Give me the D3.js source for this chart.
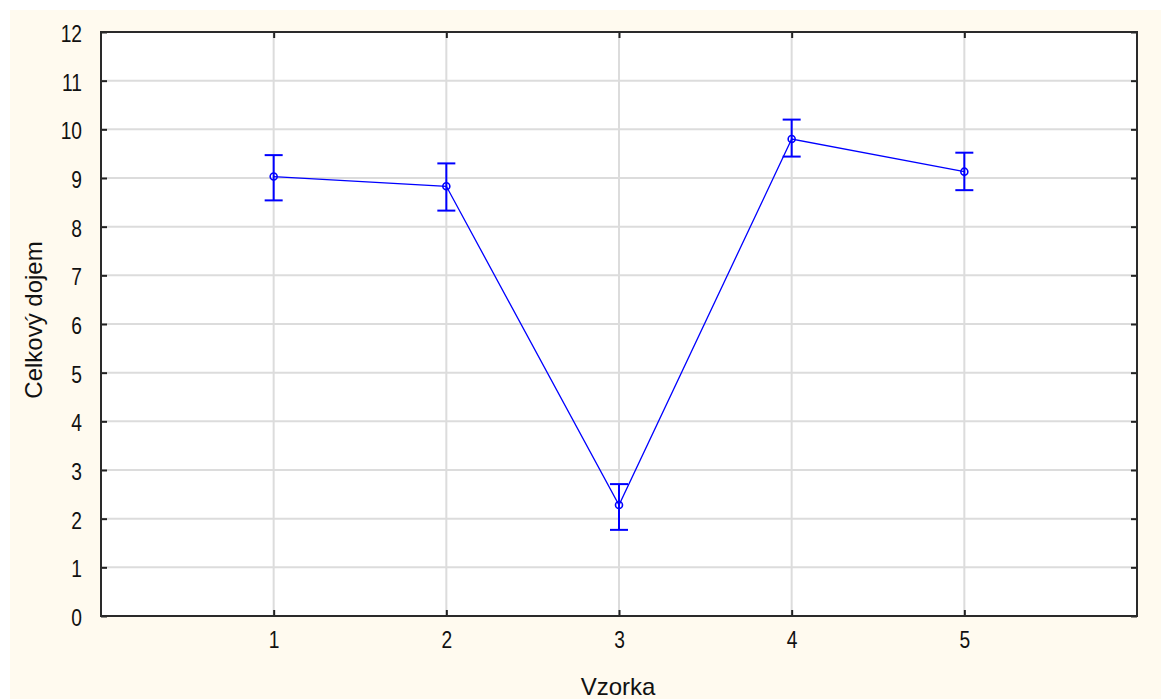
<!DOCTYPE html>
<html>
<head>
<meta charset="utf-8">
<script src="https://cdn.jsdelivr.net/npm/d3@7"></script>
<style>
	body { margin: 0; background: #fff; }
	svg { display: block; }
	.tick text { font-family: "Liberation Sans", Arial, sans-serif; font-size: 24px; fill: #111; }
	.axisTitle { font-family: "Liberation Sans", Arial, sans-serif; font-size: 24px; fill: #111; }
</style>
</head>
<body>
<svg id="chart" width="1161" height="699"></svg>
<script>
// sample numbers and the read-off means with the error bar ends
const samples = [1, 2, 3, 4, 5]
const means = [9.03, 8.83, 2.28, 9.80, 9.13]
const upper = [9.47, 9.30, 2.71, 10.20, 9.52]
const lower = [8.54, 8.33, 1.77, 9.44, 8.75]
const yTicks = [0, 1, 2, 3, 4, 5, 6, 7, 8, 9, 10, 11, 12]

const svg = d3.select("#chart")
const W = 1161, H = 699
const plot = {left: 101, top: 32, right: 1137, bottom: 616}

//cream backing panel, offset a bit from the top left corner
svg.append("rect")
	.attr("x", 10).attr("y", 10)
	.attr("width", W - 10).attr("height", H - 10)
	.attr("fill", "#fffaef")

svg.append("rect")
	.attr("x", plot.left).attr("y", plot.top)
	.attr("width", plot.right - plot.left).attr("height", plot.bottom - plot.top)
	.attr("fill", "#fff")

const x = d3.scaleLinear().domain([0, 6]).range([plot.left, plot.right])
const y = d3.scaleLinear().domain([0, 12]).range([plot.bottom, plot.top])

// grid
const grid = svg.append("g").attr("stroke", "#dcdcdc").attr("stroke-width", 2)
grid.selectAll("line.v")
	.data(samples)
	.join("line")
		.classed("v", true)
		.attr("x1", d => x(d)).attr("x2", d => x(d))
		.attr("y1", plot.top).attr("y2", plot.bottom)
grid.selectAll("line.h")
	.data(yTicks.filter(t => t > 0 && t < 12))
	.join("line")
		.classed("h", true)
		.attr("x1", plot.left).attr("x2", plot.right)
		.attr("y1", d => y(d)).attr("y2", d => y(d))

// axes, ticks point inward
const yAxis = d3.axisLeft(y).tickValues(yTicks).tickFormat(d3.format("d")).tickSize(-6).tickPadding(19).tickSizeOuter(0)
const xAxis = d3.axisBottom(x).tickValues(samples).tickFormat(d3.format("d")).tickSize(-6).tickPadding(18).tickSizeOuter(0)

function styleAxis(g) {
	g.select(".domain").remove()
	g.selectAll(".tick line").attr("stroke", "#222").attr("stroke-width", 2)
}

//the original digits are narrow, squeeze them
function squeeze(sel) {
	sel.each(function() {
		const w = this.getComputedTextLength()
		d3.select(this).attr("textLength", w * 0.8).attr("lengthAdjust", "spacingAndGlyphs")
	})
}

svg.append("g").attr("transform", `translate(${plot.left},0)`).call(yAxis).call(styleAxis)
	.selectAll(".tick text").attr("dy", "0.4em").call(squeeze)
svg.append("g").attr("transform", `translate(0,${plot.bottom})`).call(xAxis).call(styleAxis)
	.selectAll(".tick text").attr("dy", "0.6em").call(squeeze)
svg.append("g").attr("transform", `translate(${plot.right},0)`)
	.call(d3.axisRight(y).tickValues(yTicks).tickSize(-6).tickFormat("").tickSizeOuter(0)).call(styleAxis)
svg.append("g").attr("transform", `translate(0,${plot.top})`)
	.call(d3.axisTop(x).tickValues(samples).tickSize(-6).tickFormat("").tickSizeOuter(0)).call(styleAxis)

// frame
svg.append("rect")
	.attr("x", plot.left).attr("y", plot.top)
	.attr("width", plot.right - plot.left).attr("height", plot.bottom - plot.top)
	.attr("fill", "none").attr("stroke", "#2a2a2a").attr("stroke-width", 2)

// titles
svg.append("text").classed("axisTitle", true)
	.attr("x", (plot.left + plot.right) / 2 - 1).attr("y", 695)
	.attr("text-anchor", "middle")
	.text("Vzorka")
svg.append("text").classed("axisTitle", true)
	.attr("transform", `translate(42,${(plot.top + plot.bottom) / 2 - 4}) rotate(-90)`)
	.attr("text-anchor", "middle")
	.text("Celkový dojem")

// data
const data = samples.map((s, i) => ({s, m: means[i], lo: lower[i], hi: upper[i]}))
const blue = "#0000ff"

svg.append("path")
	.datum(data)
	.attr("fill", "none").attr("stroke", blue).attr("stroke-width", 1.3)
	.attr("d", d3.line().x(d => x(d.s)).y(d => y(d.m)))

const bars = svg.append("g").attr("stroke", blue).attr("stroke-width", 2).attr("fill", "none")
bars.selectAll("line.err")
	.data(data)
	.join("line")
		.classed("err", true)
		.attr("x1", d => x(d.s)).attr("x2", d => x(d.s))
		.attr("y1", d => y(d.lo)).attr("y2", d => y(d.hi))
bars.selectAll("line.capHi")
	.data(data)
	.join("line")
		.classed("capHi", true)
		.attr("x1", d => x(d.s) - 9).attr("x2", d => x(d.s) + 9)
		.attr("y1", d => y(d.hi)).attr("y2", d => y(d.hi))
bars.selectAll("line.capLo")
	.data(data)
	.join("line")
		.classed("capLo", true)
		.attr("x1", d => x(d.s) - 9).attr("x2", d => x(d.s) + 9)
		.attr("y1", d => y(d.lo)).attr("y2", d => y(d.lo))

svg.append("g").selectAll("circle")
	.data(data)
	.join("circle")
		.attr("cx", d => x(d.s)).attr("cy", d => y(d.m))
		.attr("r", 3.5)
		.attr("fill", "none").attr("stroke", blue).attr("stroke-width", 1.6)
</script>
</body>
</html>
